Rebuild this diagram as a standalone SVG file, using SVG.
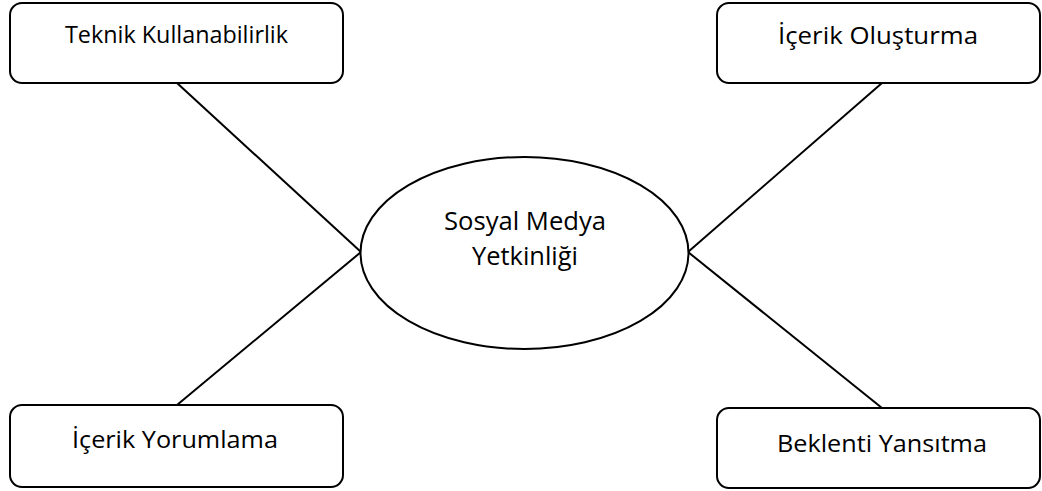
<svg xmlns="http://www.w3.org/2000/svg" width="1042" height="491" viewBox="0 0 1042 491">
<style>
.box{fill:#fff;stroke:#000;stroke-width:2}
.conn{stroke:#000;stroke-width:2;fill:none}
text{font-family:"Open Sans","Noto Sans","DejaVu Sans",sans-serif;fill:#000;text-anchor:middle}
.s{font-size:23px}
.l{font-size:25.5px}
</style>
<rect width="1042" height="491" fill="#fff"/>
<g id="connectors">
<line class="conn" x1="177" y1="83" x2="361" y2="252"/>
<line class="conn" x1="882" y1="83" x2="688" y2="252"/>
<line class="conn" x1="177" y1="405" x2="361" y2="252"/>
<line class="conn" x1="882" y1="408" x2="688" y2="252"/>
</g>
<g id="center">
<ellipse class="box" cx="524.5" cy="253" rx="164" ry="96"/>
<text class="l" x="525" y="230" textLength="162" lengthAdjust="spacingAndGlyphs">Sosyal Medya</text>
<text class="l" x="525" y="265" textLength="106" lengthAdjust="spacingAndGlyphs">Yetkinliği</text>
</g>
<g id="teknik">
<rect class="box" x="10" y="3" width="333" height="80" rx="12"/>
<text class="s" x="176.5" y="43" textLength="223" lengthAdjust="spacingAndGlyphs">Teknik Kullanabilirlik</text>
</g>
<g id="olusturma">
<rect class="box" x="717" y="3" width="323" height="80" rx="12"/>
<text class="s" x="878" y="44" textLength="200" lengthAdjust="spacingAndGlyphs">İçerik Oluşturma</text>
</g>
<g id="yorumlama">
<rect class="box" x="10" y="405" width="333" height="82" rx="12"/>
<text class="s" x="175" y="448" textLength="206" lengthAdjust="spacingAndGlyphs">İçerik Yorumlama</text>
</g>
<g id="beklenti">
<rect class="box" x="717" y="408" width="323" height="80" rx="12"/>
<text class="s" x="882" y="452" textLength="210" lengthAdjust="spacingAndGlyphs">Beklenti Yansıtma</text>
</g>
</svg>
